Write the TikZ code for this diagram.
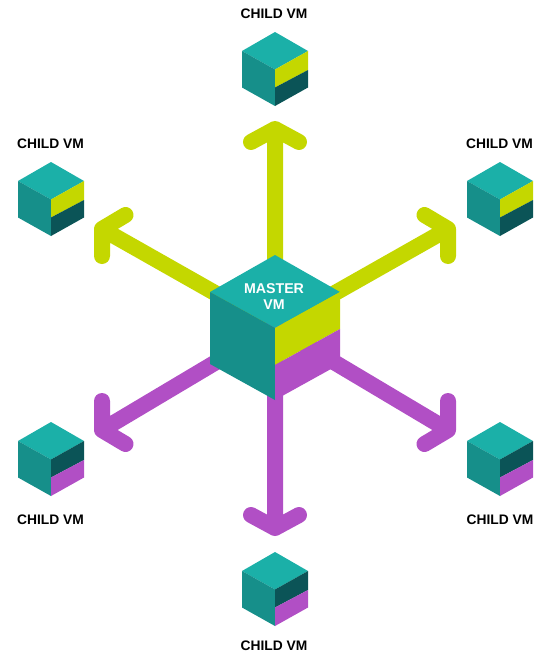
\documentclass[tikz,border=0pt]{standalone}
\usepackage{fontspec}
\setmainfont{Liberation Sans}
\definecolor{topc}{HTML}{1BB0A8}
\definecolor{leftc}{HTML}{168F8A}
\definecolor{limec}{HTML}{C4D700}
\definecolor{purpc}{HTML}{B14FC5}
\definecolor{darkc}{HTML}{0B5457}
\tikzset{
  vmlabel/.style={font=\bfseries\fontsize{13.8}{15}\selectfont, text=black, inner sep=0pt, anchor=center},
  masterlabel/.style={font=\bfseries\fontsize{14.2}{15.5}\selectfont, text=white, inner sep=0pt, align=center},
  arrowline/.style={line width=16pt, line cap=round, line join=round},
}
% #1 name, #2 top x, #3 top y, #4 upper right colour, #5 lower right colour
\newcommand{\childcube}[5]{%
  \begin{scope}[shift={(#2,#3)}]
    \coordinate (#1) at (0,37);
    \fill[topc] (0,0) -- (33,19) -- (0,37.5) -- (-33,19) -- cycle;
    \fill[leftc] (-33,19) -- (0,37.5) -- (0,74) -- (-33,55.5) -- cycle;
    \fill[#4] (0,37.5) -- (33,19) -- (33,38) -- (0,55.5) -- cycle;
    \fill[#5] (0,55.5) -- (33,38) -- (33,55.5) -- (0,74) -- cycle;
  \end{scope}}
\begin{document}
\begin{tikzpicture}[x=1pt,y=-1pt]
\useasboundingbox (0,0) rectangle (545,653);
\coordinate (master) at (275,327);
% arrow ends
\coordinate (tipT) at (275,129);
\coordinate (tipUL) at (102,229);
\coordinate (tipUR) at (448,229);
\coordinate (tipLL) at (102,430);
\coordinate (tipLR) at (448,430);
\coordinate (tipB) at (275,528);
\coordinate (bT1) at (251,142); \coordinate (bT2) at (299,142);
\coordinate (bUL1) at (125.5,215); \coordinate (bUL2) at (102,256);
\coordinate (bUR1) at (424.5,215); \coordinate (bUR2) at (448,256);
\coordinate (bLL1) at (102,401); \coordinate (bLL2) at (125.5,444);
\coordinate (bLR1) at (448,401); \coordinate (bLR2) at (424.5,444);
\coordinate (bB1) at (251,515); \coordinate (bB2) at (299,515);
% arrows
\draw[limec,arrowline] (master) -- (tipT) (bT1) -- (tipT) -- (bT2);
\draw[limec,arrowline] (master) -- (tipUL) (bUL1) -- (tipUL) -- (bUL2);
\draw[limec,arrowline] (master) -- (tipUR) (bUR1) -- (tipUR) -- (bUR2);
\draw[purpc,arrowline] (master) -- (tipLL) (bLL1) -- (tipLL) -- (bLL2);
\draw[purpc,arrowline] (master) -- (tipLR) (bLR1) -- (tipLR) -- (bLR2);
\draw[purpc,arrowline] (master) -- (tipB) (bB1) -- (tipB) -- (bB2);
% master cube
\fill[topc] (275,255) -- (340,292) -- (275,328) -- (210,292) -- cycle;
\fill[leftc] (210,292) -- (275,328) -- (275,400) -- (210,364) -- cycle;
\fill[limec] (275,328) -- (340,292) -- (340,329) -- (275,365) -- cycle;
\fill[purpc] (275,365) -- (340,329) -- (340,364) -- (275,400) -- cycle;
\node[masterlabel] (masterText) at (274,296.5) {MASTER\\VM};
% children
\childcube{cT}{275}{32}{limec}{darkc}
\childcube{cUL}{51}{162}{limec}{darkc}
\childcube{cUR}{500}{162}{limec}{darkc}
\childcube{cLL}{51}{422}{darkc}{purpc}
\childcube{cLR}{500}{422}{darkc}{purpc}
\childcube{cB}{275}{552}{darkc}{purpc}
\node[vmlabel] (lT) at (274,14) {CHILD VM};
\node[vmlabel] (lUL) at (50.5,144) {CHILD VM};
\node[vmlabel] (lUR) at (499.5,144) {CHILD VM};
\node[vmlabel] (lLL) at (50.5,520) {CHILD VM};
\node[vmlabel] (lLR) at (500,520) {CHILD VM};
\node[vmlabel] (lB) at (274,646) {CHILD VM};
\end{tikzpicture}
\end{document}
